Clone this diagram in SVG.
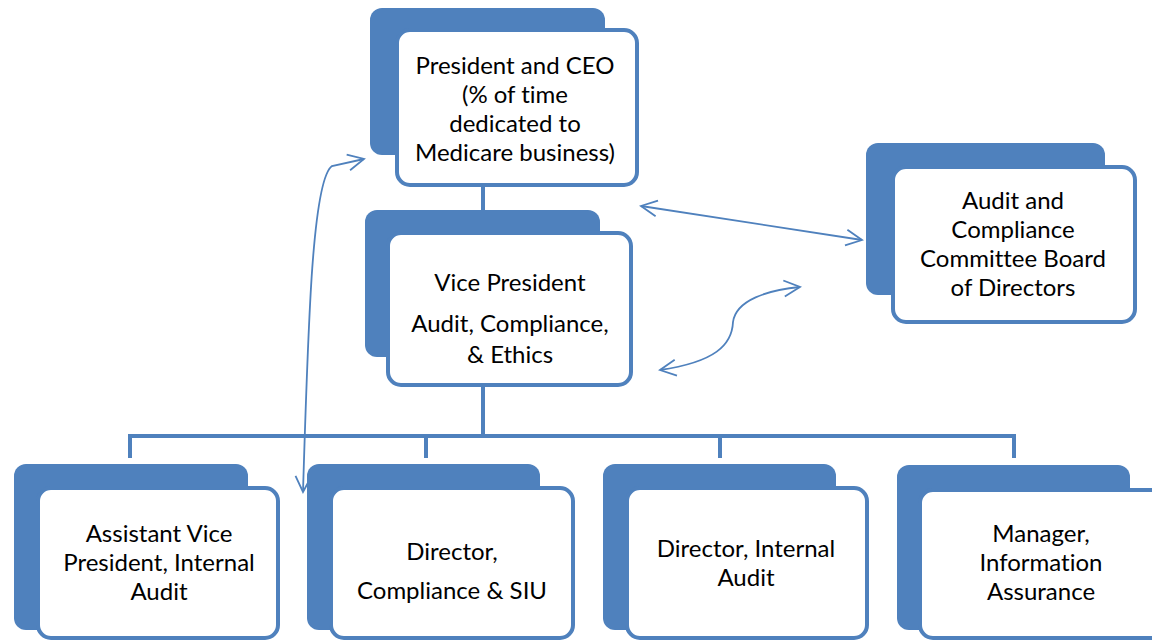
<svg xmlns="http://www.w3.org/2000/svg" width="1152" height="640" viewBox="0 0 1152 640">
<style>
.back{fill:#4F81BD}
.front{fill:#fff;stroke:#4F81BD;stroke-width:4}
.lbl{font-family:Lato,"Open Sans","Liberation Sans",sans-serif;font-size:24px;fill:#000;text-anchor:middle;font-variant-ligatures:none}
.tree{fill:none;stroke:#4F81BD;stroke-width:4}
.arr{fill:none;stroke:#4F81BD;stroke-width:1.8;marker-start:url(#ah);marker-end:url(#ah)}
</style>
<defs>
<marker id="ah" viewBox="0 0 20 20" refX="18" refY="10" markerWidth="20" markerHeight="20" markerUnits="userSpaceOnUse" orient="auto-start-reverse">
<path d="M2,2 L18,10 L2,18" fill="none" stroke="#4F81BD" stroke-width="1.8"/>
</marker>
</defs>
<rect width="1152" height="640" fill="#fff"/>
<g id="connectors">
<line class="tree" x1="483" y1="185" x2="483" y2="210"/>
<line class="tree" x1="483" y1="385" x2="483" y2="436"/>
<path class="tree" d="M130,458 V436 H1014 V458 M426,436 V458 M720,436 V458"/>
<path class="arr" d="M303,492 C308,330 312,180 332,166 L364,159"/>
<path class="arr" d="M641,206 L862,240"/>
<path class="arr" d="M660,370 C715,362 732,345 733,322 C736,300 768,290 800,287"/>
</g>
<g id="president">
<rect class="back" x="370" y="8" width="235" height="147" rx="12"/>
<rect class="front" x="397" y="30" width="240" height="155" rx="13"/>
<text class="lbl" x="515" y="74">President and CEO</text>
<text class="lbl" x="515" y="103">(% of time</text>
<text class="lbl" x="515" y="132">dedicated to</text>
<text class="lbl" x="515" y="161">Medicare business)</text>
</g>
<g id="vp">
<rect class="back" x="365" y="210" width="235" height="147" rx="12"/>
<rect class="front" x="388" y="233" width="243" height="152" rx="13"/>
<text class="lbl" x="510" y="291">Vice President</text>
<text class="lbl" x="510" y="332">Audit, Compliance,</text>
<text class="lbl" x="510" y="363">&amp; Ethics</text>
</g>
<g id="committee">
<rect class="back" x="866" y="143" width="239" height="152" rx="12"/>
<rect class="front" x="893" y="167" width="242" height="155" rx="13"/>
<text class="lbl" x="1013" y="209">Audit and</text>
<text class="lbl" x="1013" y="238">Compliance</text>
<text class="lbl" x="1013" y="267">Committee Board</text>
<text class="lbl" x="1013" y="296">of Directors</text>
</g>
<g id="avp">
<rect class="back" x="14" y="464" width="234" height="166" rx="12"/>
<rect class="front" x="38" y="488" width="240" height="150" rx="13"/>
<text class="lbl" x="159" y="542">Assistant Vice</text>
<text class="lbl" x="159" y="571">President, Internal</text>
<text class="lbl" x="159" y="600">Audit</text>
</g>
<g id="dir-compliance">
<rect class="back" x="307" y="464" width="233" height="166" rx="12"/>
<rect class="front" x="331" y="488" width="242" height="150" rx="13"/>
<text class="lbl" x="452" y="560">Director,</text>
<text class="lbl" x="452" y="599">Compliance &amp; SIU</text>
</g>
<g id="dir-audit">
<rect class="back" x="603" y="464" width="233" height="166" rx="12"/>
<rect class="front" x="627" y="488" width="240" height="150" rx="13"/>
<text class="lbl" x="746" y="557">Director, Internal</text>
<text class="lbl" x="746" y="586">Audit</text>
</g>
<g id="manager">
<rect class="back" x="897" y="465" width="233" height="165" rx="12"/>
<rect class="front" x="920" y="490" width="250" height="148" rx="13"/>
<text class="lbl" x="1041" y="542">Manager,</text>
<text class="lbl" x="1041" y="571">Information</text>
<text class="lbl" x="1041" y="600">Assurance</text>
</g>
</svg>
